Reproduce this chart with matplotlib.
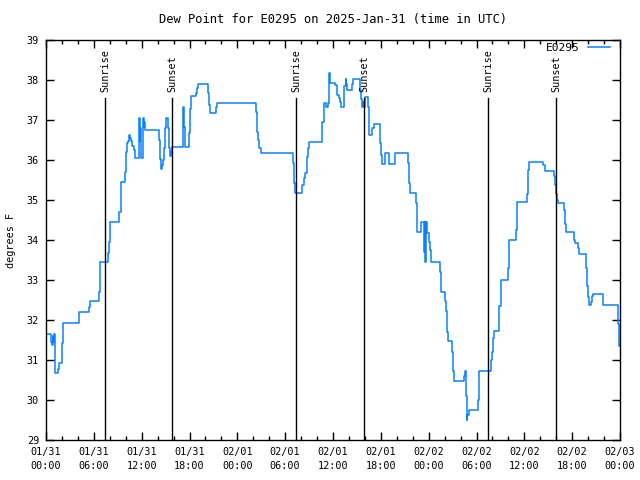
import matplotlib
matplotlib.use("Agg")
import matplotlib.pyplot as plt
import matplotlib.dates as mdates
from datetime import datetime, timedelta

start = datetime(2025, 1, 31, 0, 0)

# hours since 01/31 00:00 UTC, and dew point (F) reached at that hour
hours = [0.0, 0.59, 0.71, 0.84, 0.92, 1.0, 1.09, 1.17, 1.55, 1.67, 2.05, 2.17,
         4.1, 5.39, 5.52, 6.6, 6.77, 7.78, 7.9, 7.99, 8.07, 9.2, 9.37, 9.45,
         9.91, 10.04, 10.12, 10.29, 10.37, 10.45, 10.58, 10.66, 10.83, 11.04,
         11.16, 11.67, 11.75, 11.79, 11.96, 12.13, 12.25, 12.33, 12.46, 14.18,
         14.34, 14.47, 14.55, 14.68, 14.84, 14.97, 15.05, 15.26, 15.39, 15.51,
         15.64, 15.85, 17.19, 17.23, 17.31, 17.4, 17.48, 17.94, 18.02, 18.15,
         18.82, 18.94, 19.07, 20.32, 20.41, 20.53, 21.37, 21.45, 26.3, 26.43,
         26.55, 26.68, 26.93, 30.94, 31.11, 31.23, 32.07, 32.33, 32.53, 32.74,
         32.87, 32.99, 34.66, 34.83, 35.16, 35.33, 35.46, 35.54, 35.67, 35.96,
         36.29, 36.5, 36.75, 36.88, 37.0, 37.42, 37.59, 37.67, 37.8, 38.34,
         38.55, 39.26, 39.35, 39.47, 39.6, 39.72, 39.85, 40.01, 40.39, 40.48,
         40.56, 40.89, 41.1, 41.9, 41.98, 42.11, 42.52, 43.03, 43.78, 45.41,
         45.53, 45.62, 46.41, 46.5, 46.58, 47.04, 47.46, 47.54, 47.58, 47.67,
         47.83, 48.0, 48.17, 48.33, 49.46, 49.55, 50.05, 50.18, 50.3, 50.47,
         50.97, 51.05, 51.14, 52.39, 52.52, 52.65, 52.77, 52.85, 53.06, 54.19,
         54.28, 54.35, 55.74, 55.82, 55.91, 56.03, 56.16, 56.78, 56.86, 57.07,
         57.95, 58.08, 58.96, 59.12, 60.38, 60.42, 60.5, 60.63, 62.38, 62.59,
         63.76, 63.85, 64.01, 64.14, 64.26, 65.02, 65.1, 65.19, 66.23, 66.32,
         66.73, 66.86, 67.74, 67.82, 67.95, 68.15, 68.32, 68.53, 68.66, 69.87,
         71.75, 71.84, 72.0]
dewpoint = [31.64, 31.45, 31.37, 31.6, 31.45, 31.65, 31.15, 30.67, 30.77, 30.92, 31.42, 31.92,
            32.2, 32.33, 32.47, 32.71, 33.44, 33.67, 33.95, 34.27, 34.44, 34.69, 35.19, 35.44,
            35.69, 36.2, 36.43, 36.48, 36.56, 36.62, 36.56, 36.48, 36.35, 36.25,
            36.04, 37.04, 36.48, 36.79, 36.04, 37.04, 36.83, 36.95, 36.75, 36.5,
            36.02, 35.77, 35.87, 36.0, 36.31, 36.79, 37.04, 36.79, 36.29, 36.1,
            36.2, 36.33, 36.83, 37.33, 36.83, 36.58, 36.33, 36.67, 37.27, 37.6,
            37.68, 37.79, 37.89, 37.67, 37.38, 37.17, 37.33, 37.43, 37.21, 36.71,
            36.5, 36.29, 36.17, 35.92, 35.42, 35.17, 35.37, 35.54, 35.67, 36.08,
            36.29, 36.46, 36.96, 37.43, 37.33, 37.43, 37.83, 38.17, 37.93, 37.92,
            37.88, 37.63, 37.55, 37.45, 37.33, 37.85, 38.02, 37.9, 37.75, 37.9,
            38.02, 38.02, 37.75, 37.52, 37.33, 37.45, 37.33, 37.58, 37.33, 36.85,
            36.63, 36.8, 36.9, 36.42, 36.12, 35.89, 36.17, 35.89, 36.17, 35.92,
            35.42, 35.17, 34.92, 34.42, 34.19, 34.44, 33.71, 34.44, 33.46, 34.44,
            34.17, 33.96, 33.75, 33.46, 33.21, 32.71, 32.48, 32.23, 31.71, 31.48,
            31.2, 30.73, 30.48, 30.6, 30.73, 30.1, 29.5, 29.62, 29.75, 30.0,
            30.35, 30.73, 30.73, 31.0, 31.2, 31.54, 31.73, 31.95, 32.36, 33.0,
            33.3, 34.0, 34.25, 34.96, 35.15, 35.5, 35.75, 35.96, 35.88, 35.73,
            35.6, 35.37, 35.15, 35.0, 34.92, 34.75, 34.4, 34.19, 34.0, 33.92,
            33.8, 33.64, 33.3, 32.85, 32.58, 32.38, 32.45, 32.6, 32.64, 32.38,
            31.9, 31.35, 31.35]

sun_hours = [7.44, 15.85, 31.4, 39.93, 55.49, 64.01]
sun_labels = ["Sunrise", "Sunset", "Sunrise", "Sunset", "Sunrise", "Sunset"]

plt.rcParams["font.family"] = "DejaVu Sans Mono"
plt.rcParams["font.size"] = 7.3

times = [start + timedelta(hours=h) for h in hours]

fig = plt.figure(figsize=(6.4, 4.8), dpi=100)
ax = fig.add_axes([46 / 640, 40 / 480, 574 / 640, 400 / 480])

ax.plot(times, dewpoint, color="#0a80ff", lw=1.1, drawstyle="steps-post", label="E0295")

for h, lab in zip(sun_hours, sun_labels):
    t = start + timedelta(hours=h)
    ax.plot([t, t], [29, 37.55], color="black", lw=1)
    ax.text(t, 37.7, lab, rotation=90, ha="center", va="bottom")

ax.set_xlim(start, start + timedelta(hours=72))
ax.set_ylim(29, 39)
ax.set_yticks(range(29, 40))
ax.xaxis.set_major_locator(mdates.HourLocator(byhour=range(0, 24, 6)))
ax.xaxis.set_minor_locator(mdates.HourLocator(byhour=range(0, 24, 2)))
ax.xaxis.set_major_formatter(mdates.DateFormatter("%m/%d\n%H:%M"))
ax.tick_params(which="both", direction="in", top=True, right=True, width=1)
ax.tick_params(which="major", length=6, pad=5)
ax.tick_params(which="minor", length=3)
for lbl in ax.get_xticklabels():
    lbl.set_linespacing(1.45)
for s in ax.spines.values():
    s.set_linewidth(1)

ax.set_title("Dew Point for E0295 on 2025-Jan-31 (time in UTC)", pad=12)
ax.set_ylabel("degrees F", labelpad=8)
ax.legend(loc="upper right", bbox_to_anchor=(0.988, 1.0), frameon=False,
          handlelength=2.0, handletextpad=0.8, markerfirst=False,
          borderaxespad=0.0, borderpad=0.25, fontsize=8)

fig.savefig("out.png", dpi=100)
